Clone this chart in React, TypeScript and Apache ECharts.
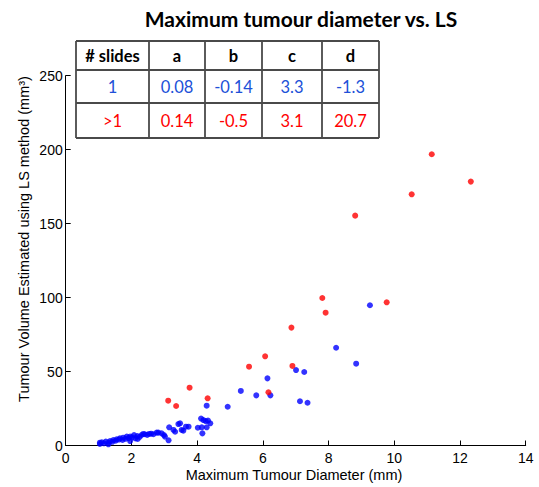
import React, { useEffect, useRef } from "react";
import * as echarts from "echarts";

const titleText = "Maximum tumour diameter vs. LS";
const xAxisName = "Maximum Tumour Diameter (mm)";
const yAxisName = "Tumour Volume Estimated using LS method (mm³)";

const xTicks = { min: 0, max: 14, interval: 2 };
const yTicks = { min: 0, max: 250, interval: 50 };

const tableHeader = ["# slides", "a", "b", "c", "d"];
const tableRowSingle = ["1", "0.08", "-0.14", "3.3", "-1.3"];
const tableRowMulti = [">1", "0.14", "-0.5", "3.1", "20.7"];

// single-slide tumours (blue)
const singleSlide: [number, number][] = [
  [1.04, 1.0], [1.04, 1.9], [1.10, 2.2], [1.16, 1.5], [1.22, 2.6], [1.30, 0.8], [1.30, 2.0],
  [1.35, 3.0], [1.42, 2.5], [1.45, 3.7], [1.52, 3.2], [1.55, 4.2], [1.62, 4.0], [1.65, 4.9],
  [1.73, 3.7], [1.75, 5.3], [1.82, 4.5], [1.86, 6.0], [1.92, 5.0], [1.96, 3.0], [1.96, 6.0],
  [2.02, 5.5], [2.08, 7.1], [2.12, 4.8], [2.18, 6.4], [2.19, 4.4], [2.25, 5.8], [2.31, 7.1],
  [2.36, 7.8], [2.41, 7.6], [2.48, 7.2], [2.54, 7.8], [2.60, 8.0], [2.67, 7.6], [2.77, 8.7],
  [2.82, 8.7], [2.92, 8.2], [2.99, 7.1], [3.02, 6.0], [3.13, 3.5], [3.15, 12.3], [3.28, 10.5],
  [3.33, 9.3], [3.43, 14.5], [3.48, 15.0], [3.53, 10.5], [3.58, 10.0], [3.66, 12.7], [3.74, 12.7],
  [4.02, 12.0], [4.14, 12.3], [4.12, 18.2], [4.19, 17.2], [4.26, 16.5], [4.33, 16.8], [4.40, 15.0],
  [4.29, 12.3], [4.16, 8.2], [4.29, 26.9], [4.93, 26.2], [5.33, 36.9], [5.80, 33.9], [6.14, 45.4],
  [6.23, 33.9], [7.01, 51.0], [7.13, 29.9], [7.26, 49.7], [7.36, 28.9], [8.23, 66.1], [8.84, 55.3],
  [9.26, 94.8],
];

// multi-slide tumours (red)
const multiSlide: [number, number][] = [
  [3.12, 30.3], [3.36, 26.7], [3.77, 39.1], [4.32, 31.9], [5.58, 53.3], [6.07, 60.3], [6.17, 36.0],
  [6.87, 79.7], [6.90, 53.8], [7.81, 99.7], [7.91, 89.8], [8.81, 155.4], [9.77, 96.8], [10.53, 169.8],
  [11.14, 196.9], [12.33, 178.4],
];

const BLUE = "#0000ff";
const RED = "#ff0000";
const TABLE_BLUE = "#2050d8";

function buildTable() {
  const colX = [76, 149, 205, 262, 322, 379];
  const rowY = [41, 70, 103, 138];
  const rows = [tableHeader, tableRowSingle, tableRowMulti];
  const colors = ["#000", TABLE_BLUE, RED];
  const els: any[] = [];
  els.push({
    type: "rect",
    shape: { x: colX[0], y: rowY[0], width: colX[5] - colX[0], height: rowY[3] - rowY[0] },
    style: { fill: "#fff", stroke: "none" },
    z: 100,
  });
  rows.forEach((row, r) => {
    row.forEach((txt, c) => {
      els.push({
        type: "text",
        x: (colX[c] + colX[c + 1]) / 2,
        y: (rowY[r] + rowY[r + 1]) / 2,
        z: 102,
        style: {
          text: txt,
          fill: colors[r],
          font: `${r === 0 ? "bold " : ""}16.5px Lato, 'Open Sans', sans-serif`,
          textAlign: "center",
          textVerticalAlign: "middle",
        },
      });
    });
  });
  colX.forEach((x) => {
    els.push({
      type: "line",
      shape: { x1: x, y1: rowY[0], x2: x, y2: rowY[3] },
      style: { stroke: "#4a4a4a", lineWidth: 1.8 },
      z: 101,
    });
  });
  rowY.forEach((y) => {
    els.push({
      type: "line",
      shape: { x1: colX[0], y1: y, x2: colX[5], y2: y },
      style: { stroke: "#4a4a4a", lineWidth: 1.8 },
      z: 101,
    });
  });
  return els;
}

export default function App() {
  const ref = useRef<HTMLDivElement>(null);
  useEffect(() => {
    if (!ref.current) return;
    const chart = echarts.init(ref.current, undefined, { renderer: "svg" });
    const axisFont = "Liberation Sans, Arial, sans-serif";
    chart.setOption({
      animation: false,
      backgroundColor: "#fff",
      grid: { left: 65.7, right: 13.3, top: 75.7, bottom: 41.5, containLabel: false },
      xAxis: {
        type: "value",
        min: xTicks.min,
        max: xTicks.max,
        interval: xTicks.interval,
        axisLine: { show: true, lineStyle: { color: "#000", width: 1 } },
        axisTick: { show: true, inside: true, length: 5, lineStyle: { color: "#000" } },
        axisLabel: { color: "#000", fontFamily: axisFont, fontSize: 14, margin: 5 },
        splitLine: { show: false },
      },
      yAxis: {
        type: "value",
        min: yTicks.min,
        max: yTicks.max,
        interval: yTicks.interval,
        axisLine: { show: true, lineStyle: { color: "#000", width: 1 } },
        axisTick: { show: true, inside: true, length: 5, lineStyle: { color: "#000" } },
        axisLabel: { color: "#000", fontFamily: axisFont, fontSize: 14, margin: 3 },
        splitLine: { show: false },
      },
      series: [
        {
          type: "scatter",
          data: singleSlide,
          symbol: "circle",
          symbolSize: 6,
          itemStyle: { color: BLUE },
          z: 3,
        },
        {
          type: "scatter",
          data: multiSlide,
          symbol: "circle",
          symbolSize: 6,
          itemStyle: { color: RED },
          z: 4,
        },
      ],
      graphic: [
        {
          type: "text",
          x: 301,
          y: 18,
          style: {
            text: titleText,
            font: "bold 21px Lato, 'Open Sans', sans-serif",
            fill: "#000",
            textAlign: "center",
            textVerticalAlign: "middle",
          },
        },
        {
          type: "text",
          x: 294,
          y: 475,
          style: {
            text: xAxisName,
            font: `14.5px ${axisFont}`,
            fill: "#000",
            textAlign: "center",
            textVerticalAlign: "middle",
          },
        },
        {
          type: "text",
          x: 24,
          y: 239,
          rotation: Math.PI / 2,
          style: {
            text: yAxisName,
            font: `14.5px ${axisFont}`,
            fill: "#000",
            textAlign: "center",
            textVerticalAlign: "middle",
          },
        },
        ...buildTable(),
      ],
    });
    return () => chart.dispose();
  }, []);
  return (
    <div
      ref={ref}
      style={{ position: "fixed", left: 0, top: 0, width: 539, height: 487 }}
    />
  );
}
